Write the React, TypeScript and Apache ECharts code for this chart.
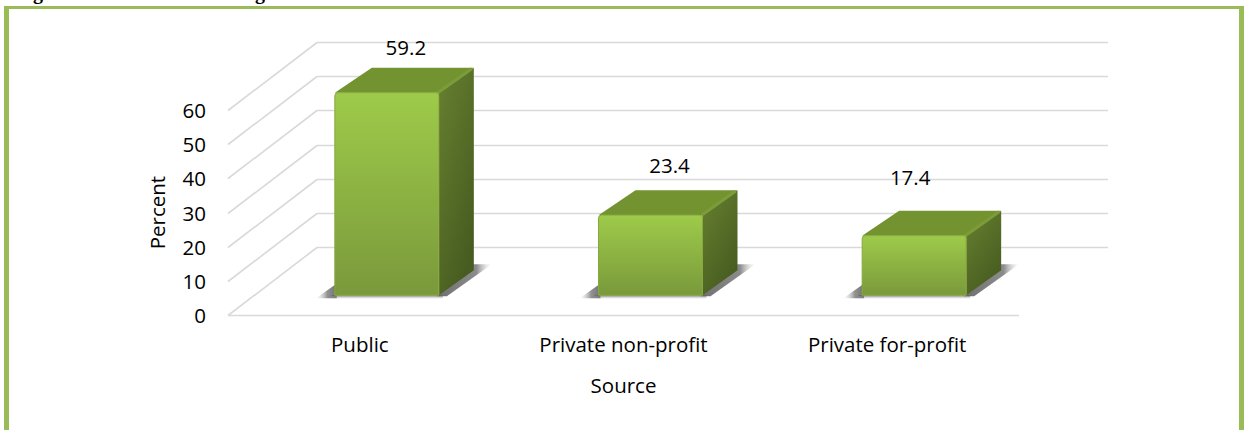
import React, { useEffect, useRef } from "react";
import * as echarts from "echarts";

const categories = ["Public", "Private non-profit", "Private for-profit"];
const percents = [59.2, 23.4, 17.4];
const gridTicks = [0, 10, 20, 30, 40, 50, 60];
const labelTexts = ["59.2", "23.4", "17.4"];
const labelShiftX = [19, 19, -4];
const labelShiftY = [-46, -50, -59];

const FONT = "'Open Sans', sans-serif";
const FS = 20.5;
const DEPTH_X = 89;
const DEPTH_Y = 68;
const BAR_W = 104;
const BAR_OFF_X = 27;
const BAR_OFF_Y = 20;
const BAR_DX = 35;
const BAR_DY = 25;

const renderGrid = (params: any, api: any) => {
  const v = api.value(0);
  const cs = params.coordSys;
  const y = Math.round(api.coord([0, v])[1]) + 0.5;
  const x0 = cs.x;
  const x1 = x0 + DEPTH_X;
  const y1 = y - DEPTH_Y;
  const st = { stroke: "#d9d9d9", lineWidth: 1.6, fill: "none" };
  const children: any[] = [
    { type: "line", shape: { x1: x0, y1: y, x2: x1, y2: y1 }, style: st },
    { type: "line", shape: { x1, y1, x2: x1 + cs.width, y2: y1 }, style: st },
  ];
  if (v === 0) {
    children.push({ type: "line", shape: { x1: x0, y1: y, x2: x0 + cs.width, y2: y }, style: st });
  }
  return { type: "group", children };
};

const renderBar = (params: any, api: any) => {
  const i = api.value(0);
  const top = api.coord([i, api.value(1)]);
  const base = api.coord([i, 0]);
  const l = top[0] - BAR_W / 2 + BAR_OFF_X;
  const r = l + BAR_W;
  const t = top[1] - BAR_OFF_Y;
  const b = base[1] - BAR_OFF_Y;
  const grad = (x2: number, y2: number, a: string, c: string) =>
    new echarts.graphic.LinearGradient(0, 0, x2, y2, [
      { offset: 0, color: a },
      { offset: 1, color: c },
    ]);
  const dark = "rgba(95,95,95,0.9)";
  const clear = "rgba(200,200,200,0)";
  const fade = (x0: number, x1: number, stops: any[]) =>
    new echarts.graphic.LinearGradient(x0, 0, x1, 0, stops);
  const children: any[] = [
    {
      type: "polygon",
      shape: { points: [[l - 19, b + 3], [l + 1, b - 11], [l + 2, b + 3]] },
      style: {
        fill: fade(0, 1, [
          { offset: 0, color: clear },
          { offset: 0.55, color: "rgba(110,110,110,0.75)" },
          { offset: 1, color: dark },
        ]),
      },
    },
    {
      type: "rect",
      shape: { x: l - 4, y: b, width: BAR_W + 8, height: 4 },
      style: { fill: grad(0, 1, dark, clear) },
    },
    {
      type: "polygon",
      shape: { points: [[r - 2, b + 1], [r + BAR_DX - 2, b - 31], [r + BAR_DX + 18, b - 31], [r + 8, b + 1]] },
      style: {
        fill: fade(0, 1, [
          { offset: 0, color: dark },
          { offset: 0.72, color: "rgba(110,110,110,0.8)" },
          { offset: 1, color: clear },
        ]),
      },
    },
    {
      type: "polygon",
      shape: { points: [[r, t], [r + BAR_DX, t - BAR_DY], [r + BAR_DX, b - BAR_DY], [r, b]] },
      style: { fill: grad(0.6, 1, "#678030", "#475c20") },
    },
    {
      type: "polygon",
      shape: { points: [[l, t], [l + BAR_DX + 2, t - BAR_DY], [r + BAR_DX, t - BAR_DY], [r, t]] },
      style: { fill: "#739331", lineJoin: "round" },
    },
    {
      type: "line",
      shape: { x1: r - 1, y1: t, x2: r + BAR_DX - 2, y2: t - BAR_DY + 1 },
      style: { stroke: "#7c9c38", lineWidth: 3, fill: "none" },
    },
    {
      type: "rect",
      shape: { x: l, y: t, width: BAR_W, height: b - t, r: [3, 3, 0, 0] },
      style: { fill: grad(0, 1, "#9ecb4a", "#7a993b"), stroke: "#88a83e", lineWidth: 1 },
    },
  ];
  return { type: "group", children };
};

const renderLabel = (params: any, api: any) => {
  const i = api.value(0);
  const top = api.coord([i, api.value(1)]);
  return {
    type: "text",
    style: {
      x: top[0] + BAR_OFF_X + labelShiftX[i],
      y: top[1] - BAR_OFF_Y + labelShiftY[i],
      text: labelTexts[i],
      fill: "#000000",
      font: `${FS}px ${FONT}`,
      align: "center",
      verticalAlign: "middle",
    },
  };
};

export default function App() {
  const ref = useRef<HTMLDivElement>(null);
  useEffect(() => {
    document.body.style.margin = "0";
    const chart = echarts.init(ref.current!, null, { renderer: "svg" });
    chart.setOption({
      animation: false,
      backgroundColor: "#ffffff",
      textStyle: { fontFamily: FONT },
      grid: { left: 228, top: 110, width: 791, height: 205.2 },
      xAxis: {
        type: "category",
        data: categories,
        name: "Source",
        nameLocation: "middle",
        nameGap: 59,
        nameTextStyle: { color: "#000", fontSize: FS, fontFamily: FONT },
        axisLine: { show: false },
        axisTick: { show: false },
        axisLabel: { color: "#000", fontSize: FS, fontFamily: FONT, margin: 18, interval: 0 },
        splitLine: { show: false },
      },
      yAxis: {
        type: "value",
        min: 0,
        max: 60,
        interval: 10,
        name: "Percent",
        nameLocation: "middle",
        nameGap: 61,
        nameRotate: 90,
        nameTextStyle: { color: "#000", fontSize: FS, fontFamily: FONT },
        axisLine: { show: false },
        axisTick: { show: false },
        axisLabel: { color: "#000", fontSize: FS, fontFamily: FONT, margin: 22 },
        splitLine: { show: false },
      },
      graphic: [
        { type: "rect", shape: { x: 4, y: 6, width: 1240, height: 3 }, style: { fill: "#9bbb59" } },
        { type: "rect", shape: { x: 4, y: 6, width: 5, height: 424 }, style: { fill: "#9bbb59" } },
        { type: "rect", shape: { x: 1239, y: 6, width: 5, height: 424 }, style: { fill: "#9bbb59" } },
        { type: "text", x: 38, y: -18, style: { text: "g", fill: "#000", font: "bold 20px 'Liberation Serif'", align: "center" } },
        { type: "text", x: 260, y: -18, style: { text: "g", fill: "#000", font: "bold 20px 'Liberation Serif'", align: "center" } },
      ],
      series: [
        {
          type: "custom",
          coordinateSystem: "cartesian2d",
          renderItem: renderGrid,
          data: gridTicks.map((v) => [v]),
          encode: { y: 0 },
          silent: true,
          clip: false,
          z: 1,
        },
        {
          type: "custom",
          coordinateSystem: "cartesian2d",
          renderItem: renderBar,
          data: percents.map((v, i) => [i, v]),
          encode: { x: 0, y: 1 },
          silent: true,
          clip: false,
          z: 2,
        },
        {
          type: "custom",
          coordinateSystem: "cartesian2d",
          renderItem: renderLabel,
          data: percents.map((v, i) => [i, v]),
          encode: { x: 0, y: 1 },
          silent: true,
          clip: false,
          z: 3,
        },
      ],
    });
    return () => chart.dispose();
  }, []);
  return <div ref={ref} style={{ width: 1244, height: 430 }} />;
}
